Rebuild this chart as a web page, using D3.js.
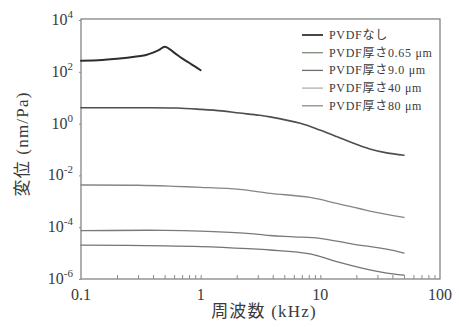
<!DOCTYPE html>
<html>
<head>
<meta charset="utf-8">
<script src="https://cdn.jsdelivr.net/npm/d3@7/dist/d3.min.js"></script>
<style>
  html, body { margin: 0; padding: 0; background: #ffffff; }
  svg { display: block; }
  text { font-family: "Liberation Serif", "Noto Sans CJK JP", serif; fill: #3a3a3a; }
</style>
</head>
<body>
<svg id="chart" width="459" height="327"></svg>
<script>
// Frequency (kHz) and log10 of displacement (nm/Pa) for each PVDF configuration
const seriesNames = ["PVDFなし", "PVDF厚さ0.65 μm", "PVDF厚さ9.0 μm", "PVDF厚さ40 μm", "PVDF厚さ80 μm"];

const freqNone = [0.1, 0.15, 0.2, 0.3, 0.35, 0.4, 0.45, 0.5, 0.6, 0.7, 0.8, 0.9, 1.0];
const logDispNone = [2.43, 2.46, 2.5, 2.6, 2.65, 2.74, 2.85, 2.97, 2.74, 2.52, 2.35, 2.2, 2.06];

const freq065 = [0.1, 0.3, 0.63, 1.0, 1.5, 2.1, 3.1, 3.8, 6.8, 9.9, 13.7, 18.7, 25.9, 35.8, 50];
const logDisp065 = [0.61, 0.61, 0.6, 0.55, 0.49, 0.41, 0.32, 0.26, 0.01, -0.25, -0.5, -0.75, -0.98, -1.13, -1.22];

const freq9 = [0.1, 0.3, 0.6, 1, 2.1, 3.8, 8.2, 13.7, 25.9, 50];
const logDisp9 = [-2.37, -2.38, -2.42, -2.46, -2.54, -2.69, -2.85, -3.08, -3.375, -3.62];

const freq40 = [0.1, 0.5, 1, 2.3, 3.8, 6, 9.9, 18.7, 35.8, 50];
const logDisp40 = [-4.13, -4.12, -4.15, -4.23, -4.32, -4.37, -4.43, -4.65, -4.85, -5.0];

const freq80 = [0.1, 0.5, 1, 2.5, 3.8, 8.2, 13.7, 25.9, 35, 50];
const logDisp80 = [-4.69, -4.72, -4.75, -4.83, -4.88, -5.03, -5.33, -5.65, -5.76, -5.85];

const xTickLabels = ["0.1", "1", "10", "100"];
const yTickExponents = [4, 2, 0, -2, -4, -6];

const lineColors = ["#2e2e2e", "#4c4f4c", "#858585", "#7a7a7a", "#747474"];
const legendColors = ["#333333", "#7d8a7d", "#6e6e6e", "#b0b0b0", "#8c8c8c"];
const lineWidths = [2, 1.6, 1.3, 1.3, 1.3];

const series = [
  [freqNone, logDispNone],
  [freq065, logDisp065],
  [freq9, logDisp9],
  [freq40, logDisp40],
  [freq80, logDisp80]
].map(([f, v]) => f.map((d, i) => ({ f: d, v: Math.pow(10, v[i]) })));

const svg = d3.select("#chart");
const plotLeft = 81, plotRight = 440, plotTop = 19, plotBottom = 279;

const x = d3.scaleLog().domain([0.1, 100]).range([plotLeft, plotRight]);
const y = d3.scaleLog().domain([1e-6, 1e4]).range([plotBottom, 20]);

// plot frame
svg.append("rect")
  .attr("x", plotLeft).attr("y", plotTop)
  .attr("width", plotRight - plotLeft).attr("height", plotBottom - plotTop)
  .attr("fill", "none").attr("stroke", "#7a7a7a").attr("stroke-width", 1.2);

// x ticks: majors and minors drawn inward from the bottom edge
const xTickVals = [];
for (let dec = 0.1; dec < 100; dec *= 10) {
  for (let m = 1; m <= 9; m++) xTickVals.push(+(dec * m).toPrecision(3));
}
const xAxis = d3.axisBottom(x).tickValues(xTickVals.slice(1)).tickSize(-4).tickFormat("");
const gx = svg.append("g").attr("transform", `translate(0,${plotBottom})`).call(xAxis);
gx.select(".domain").remove();
gx.selectAll(".tick line").attr("stroke", "#8a8a8a").attr("stroke-width", 1);

svg.append("g").selectAll("text")
  .data(xTickLabels)
  .join("text")
  .attr("x", d => x(+d))
  .attr("y", 300)
  .attr("text-anchor", "middle")
  .attr("font-size", 16)
  .text(d => d);

// y ticks: short marks outside the left edge
const yAxis = d3.axisLeft(y).tickValues(yTickExponents.map(e => Math.pow(10, e))).tickSize(2).tickFormat("");
const gy = svg.append("g").attr("transform", `translate(${plotLeft},0)`).call(yAxis);
gy.select(".domain").remove();
gy.selectAll(".tick line").attr("stroke", "#8a8a8a");

const yLabels = svg.append("g").selectAll("text")
  .data(yTickExponents)
  .join("text")
  .attr("x", 73)
  .attr("y", e => y(Math.pow(10, e)) + 5)
  .attr("text-anchor", "end")
  .attr("font-size", 16);
yLabels.append("tspan").text("10");
yLabels.append("tspan")
  .attr("dy", -7)
  .attr("font-size", 11)
  .text(e => e < 0 ? "-" + Math.abs(e) : String(e));

// axis titles
svg.append("text")
  .attr("x", 264).attr("y", 317)
  .attr("text-anchor", "middle")
  .attr("font-size", 17)
  .attr("letter-spacing", 1.2)
  .text("周波数 (kHz)");

svg.append("text")
  .attr("transform", "translate(28,144) rotate(-90)")
  .attr("text-anchor", "middle")
  .attr("font-size", 17)
  .attr("letter-spacing", 1.2)
  .text("変位 (nm/Pa)");

// curves
const smoothLine = d3.line()
  .x(d => x(d.f))
  .y(d => y(d.v))
  .curve(d3.curveCatmullRom.alpha(0.5));
const peakLine = d3.line()
  .x(d => x(d.f))
  .y(d => y(d.v))
  .curve(d3.curveMonotoneX);

svg.append("g").selectAll("path")
  .data(series)
  .join("path")
  .attr("d", (d, i) => i === 0 ? peakLine(d) : smoothLine(d))
  .attr("fill", "none")
  .attr("stroke", (d, i) => lineColors[i])
  .attr("stroke-width", (d, i) => lineWidths[i])
  .attr("stroke-linejoin", "round")
  .attr("stroke-linecap", "round");

// legend
const legend = svg.append("g").attr("transform", "translate(302,35)");
const rows = legend.selectAll("g")
  .data(seriesNames)
  .join("g")
  .attr("transform", (d, i) => `translate(0,${i * 17.7})`);
rows.append("line")
  .attr("x1", 0).attr("x2", 21)
  .attr("y1", 0).attr("y2", 0)
  .attr("stroke", (d, i) => legendColors[i])
  .attr("stroke-width", (d, i) => i === 0 ? 1.8 : 1.3);
rows.append("text")
  .attr("x", 27).attr("y", 4)
  .attr("font-size", 12)
  .attr("letter-spacing", 0.7)
  .text(d => d);
</script>
</body>
</html>
